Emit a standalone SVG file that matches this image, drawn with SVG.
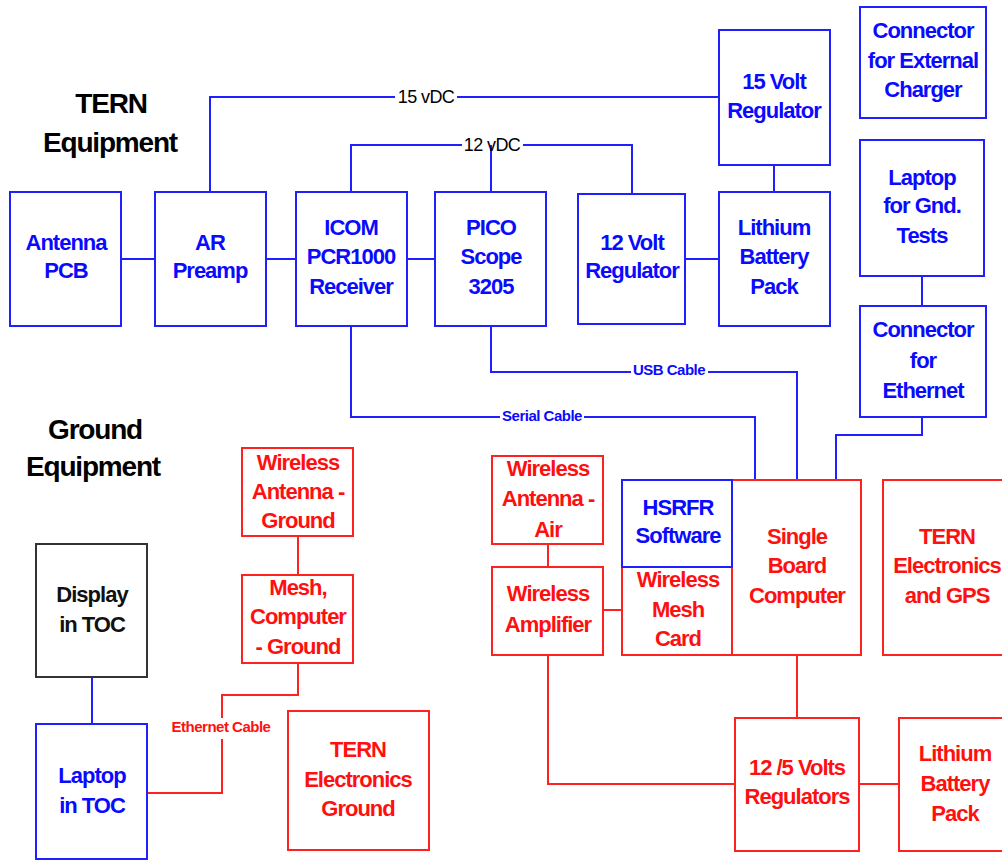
<svg xmlns="http://www.w3.org/2000/svg" width="1002" height="860" viewBox="0 0 1002 860">
<style>
.bg{fill:#ffffff}
.bb{fill:#ffffff;stroke:#1f1fff;stroke-width:2}
.rb{fill:#ffffff;stroke:#ff2020;stroke-width:2}
.kb{fill:#ffffff;stroke:#333333;stroke-width:2}
.bl{fill:none;stroke:#1f1fff;stroke-width:2}
.rl{fill:none;stroke:#ff2020;stroke-width:2}
text{font-family:"Liberation Sans",Arial,sans-serif;font-weight:bold;text-anchor:middle}
.bt{fill:#0a0aff;font-size:22px;letter-spacing:-1px}
.rt{fill:#ff1010;font-size:22px;letter-spacing:-1px}
.kt{fill:#111111;font-size:22px;letter-spacing:-1px}
.title{fill:#000000;font-size:28px;letter-spacing:-1.2px}
.vl{fill:#000000;font-size:18px;font-weight:normal;letter-spacing:-0.6px}
.cbl{fill:#0a0aff;font-size:15px;letter-spacing:-0.5px}
.crl{fill:#ff1010;font-size:15px;letter-spacing:-0.5px}
</style>
<rect class="bg" x="0" y="0" width="1002" height="860"/>
<g id="titles">
<text class="title" x="111" y="113">TERN</text>
<text class="title" x="110" y="152">Equipment</text>
<text class="title" x="95" y="439">Ground</text>
<text class="title" x="93" y="476">Equipment</text>
</g>
<g id="connectors">
<path class="bl" d="M121,259 H155 M266,259 H296 M407,259 H435"/>
<path class="bl" d="M210,192 V97 H395 M457,97 H719"/>
<path class="bl" d="M351,192 V145 H462 M523,145 H632 V194 M491,145 V192"/>
<path class="bl" d="M685,259 H719 M774,165 V192 M922,276 V306"/>
<path class="bl" d="M351,326 V417 H500 M584,417 H755 V480"/>
<path class="bl" d="M491,326 V372 H631 M708,372 H797 V480"/>
<path class="bl" d="M922,417 V435 H836 V480"/>
<path class="bl" d="M92,677 V724"/>
<path class="rl" d="M298,536 V575"/>
<path class="rl" d="M298,663 V695 H222 V718 M222,739 V793 H147"/>
<path class="rl" d="M548,544 V567 M603,610 H622 M797,655 V718"/>
<path class="rl" d="M548,655 V784 H735 M859,784 H899"/>
<text class="vl" x="426" y="103">15 vDC</text>
<text class="vl" x="492" y="151">12 vDC</text>
<text class="cbl" x="542" y="421">Serial Cable</text>
<text class="cbl" x="669" y="375">USB Cable</text>
<text class="crl" x="221" y="732">Ethernet Cable</text>
</g>
<g id="antenna-pcb">
<rect class="bb" x="10" y="192" width="111" height="134"/>
<text class="bt" x="66" y="250">Antenna</text>
<text class="bt" x="66" y="278">PCB</text>
</g>
<g id="ar-preamp">
<rect class="bb" x="155" y="192" width="111" height="134"/>
<text class="bt" x="210" y="250">AR</text>
<text class="bt" x="210" y="278">Preamp</text>
</g>
<g id="icom">
<rect class="bb" x="296" y="192" width="111" height="134"/>
<text class="bt" x="351" y="235">ICOM</text>
<text class="bt" x="351" y="264">PCR1000</text>
<text class="bt" x="351" y="294">Receiver</text>
</g>
<g id="pico">
<rect class="bb" x="435" y="192" width="111" height="134"/>
<text class="bt" x="491" y="235">PICO</text>
<text class="bt" x="491" y="264">Scope</text>
<text class="bt" x="491" y="294">3205</text>
</g>
<g id="reg12">
<rect class="bb" x="578" y="194" width="107" height="130"/>
<text class="bt" x="632" y="250">12 Volt</text>
<text class="bt" x="632" y="278">Regulator</text>
</g>
<g id="lithium-tern">
<rect class="bb" x="719" y="192" width="111" height="134"/>
<text class="bt" x="774" y="235">Lithium</text>
<text class="bt" x="774" y="264">Battery</text>
<text class="bt" x="774" y="294">Pack</text>
</g>
<g id="reg15">
<rect class="bb" x="719" y="30" width="111" height="135"/>
<text class="bt" x="774" y="89">15 Volt</text>
<text class="bt" x="774" y="118">Regulator</text>
</g>
<g id="ext-charger">
<rect class="bb" x="860" y="7" width="126" height="111"/>
<text class="bt" x="923" y="38">Connector</text>
<text class="bt" x="923" y="68">for External</text>
<text class="bt" x="923" y="97">Charger</text>
</g>
<g id="laptop-gnd">
<rect class="bb" x="860" y="140" width="124" height="136"/>
<text class="bt" x="922" y="185">Laptop</text>
<text class="bt" x="922" y="213">for Gnd.</text>
<text class="bt" x="922" y="243">Tests</text>
</g>
<g id="eth-connector">
<rect class="bb" x="860" y="306" width="126" height="111"/>
<text class="bt" x="923" y="337">Connector</text>
<text class="bt" x="923" y="368">for</text>
<text class="bt" x="923" y="398">Ethernet</text>
</g>
<g id="wa-ground">
<rect class="rb" x="242" y="448" width="111" height="88"/>
<text class="rt" x="298" y="470">Wireless</text>
<text class="rt" x="298" y="499">Antenna -</text>
<text class="rt" x="298" y="528">Ground</text>
</g>
<g id="mesh-ground">
<rect class="rb" x="242" y="575" width="111" height="88"/>
<text class="rt" x="298" y="595">Mesh,</text>
<text class="rt" x="298" y="624">Computer</text>
<text class="rt" x="298" y="654">- Ground</text>
</g>
<g id="display-toc">
<rect class="kb" x="36" y="544" width="111" height="133"/>
<text class="kt" x="92" y="602">Display</text>
<text class="kt" x="92" y="632">in TOC</text>
</g>
<g id="laptop-toc">
<rect class="bb" x="36" y="724" width="111" height="135"/>
<text class="bt" x="92" y="783">Laptop</text>
<text class="bt" x="92" y="813">in TOC</text>
</g>
<g id="tern-elec-ground">
<rect class="rb" x="288" y="711" width="141" height="139"/>
<text class="rt" x="358" y="757">TERN</text>
<text class="rt" x="358" y="787">Electronics</text>
<text class="rt" x="358" y="816">Ground</text>
</g>
<g id="wa-air">
<rect class="rb" x="492" y="456" width="111" height="88"/>
<text class="rt" x="548" y="476">Wireless</text>
<text class="rt" x="548" y="506">Antenna -</text>
<text class="rt" x="548" y="537">Air</text>
</g>
<g id="wireless-amp">
<rect class="rb" x="492" y="567" width="111" height="88"/>
<text class="rt" x="548" y="601">Wireless</text>
<text class="rt" x="548" y="632">Amplifier</text>
</g>
<g id="mesh-card">
<rect class="rb" x="622" y="567" width="110" height="88"/>
<text class="rt" x="678" y="587">Wireless</text>
<text class="rt" x="678" y="617">Mesh</text>
<text class="rt" x="678" y="646">Card</text>
</g>
<g id="sbc">
<rect class="rb" x="732" y="480" width="129" height="175"/>
<text class="rt" x="797" y="544">Single</text>
<text class="rt" x="797" y="573">Board</text>
<text class="rt" x="797" y="603">Computer</text>
</g>
<g id="hsrfr">
<rect class="bb" x="622" y="480" width="110" height="87"/>
<text class="bt" x="678" y="515">HSRFR</text>
<text class="bt" x="678" y="543">Software</text>
</g>
<g id="tern-elec-gps">
<rect class="rb" x="883" y="480" width="135" height="175"/>
<text class="rt" x="947" y="544">TERN</text>
<text class="rt" x="947" y="573">Electronics</text>
<text class="rt" x="947" y="603">and GPS</text>
</g>
<g id="reg125">
<rect class="rb" x="735" y="718" width="124" height="133"/>
<text class="rt" x="797" y="775">12 /5 Volts</text>
<text class="rt" x="797" y="804">Regulators</text>
</g>
<g id="lithium-ground">
<rect class="rb" x="899" y="718" width="120" height="133"/>
<text class="rt" x="955" y="761">Lithium</text>
<text class="rt" x="955" y="791">Battery</text>
<text class="rt" x="955" y="821">Pack</text>
</g>
</svg>
